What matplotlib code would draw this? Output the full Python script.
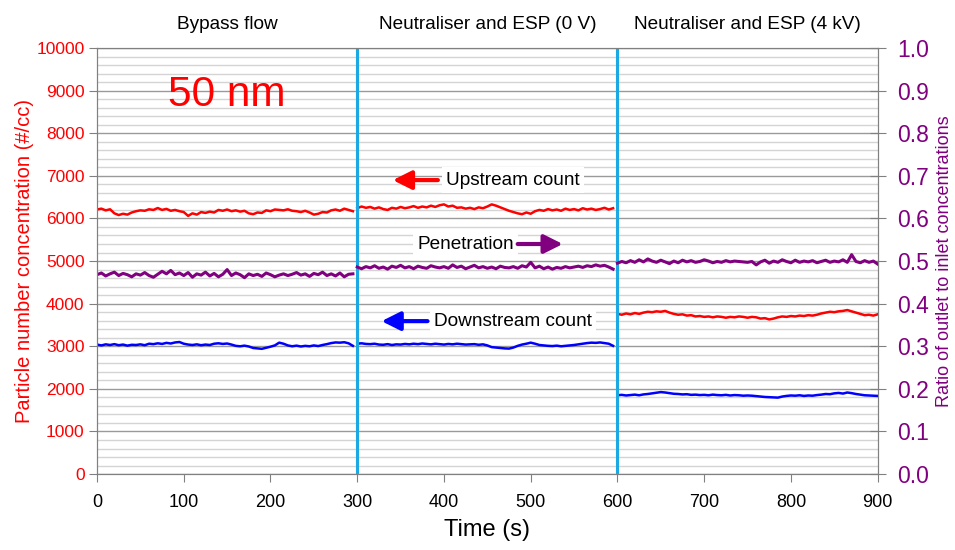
import numpy as np
import matplotlib.pyplot as plt
from matplotlib.transforms import blended_transform_factory

plt.rcParams['font.family'] = ['Liberation Sans', 'DejaVu Sans']

# time axis for the three test phases (5 s logging)
t_1 = np.arange(0, 300, 5)
t_2 = np.arange(300, 600, 5)
t_3 = np.arange(600, 905, 5)

phases = ["Bypass flow", "Neutraliser and ESP (0 V)", "Neutraliser and ESP (4 kV)"]

# upstream count (#/cc)
up_1 = [6210, 6230, 6190, 6215, 6120, 6080, 6110, 6090, 6140, 6170,
        6190, 6180, 6215, 6200, 6245, 6200, 6225, 6180, 6200, 6170,
        6150, 6060, 6120, 6090, 6150, 6130, 6160, 6140, 6200, 6180,
        6210, 6170, 6190, 6160, 6180, 6120, 6100, 6140, 6130, 6190,
        6170, 6210, 6200, 6190, 6215, 6180, 6170, 6150, 6180, 6140,
        6090, 6110, 6150, 6140, 6190, 6210, 6180, 6230, 6200, 6170]
up_2 = [6240, 6280, 6250, 6270, 6230, 6260, 6220, 6200, 6250, 6230,
        6270, 6240, 6260, 6290, 6250, 6280, 6260, 6300, 6270, 6310,
        6330, 6280, 6300, 6250, 6260, 6230, 6250, 6220, 6260, 6240,
        6280, 6330, 6300, 6260, 6220, 6180, 6150, 6120, 6100, 6140,
        6110, 6170, 6200, 6180, 6220, 6190, 6210, 6180, 6230, 6200,
        6220, 6190, 6240, 6210, 6230, 6200, 6220, 6250, 6210, 6240]
up_3 = [3760, 3740, 3770, 3750, 3780, 3760, 3790, 3810, 3800, 3820,
        3810, 3830, 3790, 3760, 3740, 3750, 3720, 3730, 3700, 3710,
        3690, 3700, 3680, 3700, 3690, 3670, 3690, 3680, 3700, 3690,
        3670, 3690, 3680, 3650, 3660, 3630, 3650, 3680, 3700, 3690,
        3710, 3700, 3720, 3710, 3730, 3720, 3740, 3770, 3790, 3810,
        3800, 3820, 3830, 3850, 3820, 3790, 3760, 3730, 3740, 3720,
        3750]

# downstream count (#/cc)
dn_1 = [3040, 3020, 3045, 3030, 3050, 3025, 3040, 3015, 3035, 3030,
        3045, 3025, 3060, 3050, 3070, 3055, 3080, 3065, 3090, 3100,
        3060, 3040, 3030, 3045, 3025, 3040, 3030, 3060, 3070, 3055,
        3065, 3040, 3010, 3000, 3015, 2995, 2960, 2950, 2940, 2965,
        2990, 3020, 3085, 3060, 3020, 3000, 3015, 2995, 3010, 3000,
        3020, 3005, 3030, 3050, 3075, 3090, 3085, 3095, 3070, 3010]
dn_2 = [3060, 3070, 3055, 3050, 3060, 3040, 3035, 3050, 3030, 3045,
        3040, 3055, 3045, 3060, 3050, 3065, 3055, 3045, 3060, 3050,
        3040, 3055, 3045, 3060, 3050, 3040, 3045, 3050, 3035, 3045,
        3020, 2980, 2970, 2960, 2950, 2945, 2970, 3010, 3040, 3060,
        3085, 3060, 3030, 3020, 3010, 3005, 3015, 3000, 3010, 3020,
        3030, 3045, 3060, 3075, 3085, 3080, 3090, 3075, 3060, 3010]
dn_3 = [1850, 1860, 1845, 1855, 1865, 1850, 1870, 1880, 1895, 1910,
        1925, 1915, 1900, 1885, 1880, 1870, 1875, 1860, 1865, 1855,
        1860, 1850, 1865, 1855, 1850, 1860, 1845, 1855, 1850, 1840,
        1845, 1840, 1830, 1820, 1810, 1805, 1800, 1795, 1820, 1835,
        1845, 1840, 1850, 1835, 1845, 1840, 1855, 1865, 1880, 1875,
        1895, 1905, 1890, 1915, 1900, 1880, 1865, 1850, 1845, 1840,
        1835]

# penetration (outlet / inlet)
pen_1 = [0.468, 0.472, 0.465, 0.470, 0.474, 0.466, 0.471, 0.468, 0.463, 0.470,
         0.467, 0.473, 0.466, 0.462, 0.469, 0.476, 0.470, 0.478, 0.468, 0.472,
         0.466, 0.473, 0.462, 0.470, 0.467, 0.474, 0.465, 0.471, 0.463, 0.469,
         0.480, 0.466, 0.472, 0.468, 0.461, 0.470, 0.466, 0.469, 0.464, 0.472,
         0.468, 0.463, 0.467, 0.470, 0.466, 0.469, 0.473, 0.467, 0.470, 0.464,
         0.471, 0.468, 0.474, 0.466, 0.470, 0.465, 0.472, 0.463, 0.469, 0.470]
pen_2 = [0.486, 0.482, 0.487, 0.484, 0.489, 0.483, 0.486, 0.481, 0.488, 0.485,
         0.490, 0.484, 0.487, 0.482, 0.488, 0.485, 0.483, 0.489, 0.486, 0.484,
         0.487, 0.483, 0.491, 0.485, 0.488, 0.482, 0.486, 0.490, 0.484, 0.487,
         0.483, 0.486, 0.482, 0.488, 0.485, 0.484, 0.487, 0.483, 0.489, 0.486,
         0.497, 0.484, 0.488, 0.482, 0.486, 0.481, 0.485, 0.483, 0.487, 0.484,
         0.486, 0.488, 0.485, 0.489, 0.487, 0.491, 0.488, 0.490, 0.486, 0.481]
pen_3 = [0.495, 0.499, 0.496, 0.501, 0.497, 0.503, 0.498, 0.505, 0.500, 0.497,
         0.502, 0.498, 0.494, 0.500, 0.496, 0.502, 0.498, 0.501, 0.497, 0.499,
         0.503, 0.500, 0.496, 0.499, 0.497, 0.501, 0.498, 0.500, 0.499, 0.498,
         0.497, 0.499, 0.491, 0.498, 0.502, 0.495, 0.500, 0.497, 0.503, 0.499,
         0.496, 0.502, 0.497, 0.500, 0.498, 0.501, 0.496, 0.499, 0.502, 0.497,
         0.500, 0.498, 0.503, 0.497, 0.515, 0.499, 0.496, 0.501, 0.497, 0.500,
         0.493]

RED = '#FF0000'
BLUE = '#0000FF'
PURPLE = '#800080'
CYAN = '#1CA9E1'

fig = plt.figure(figsize=(9.55, 5.5), dpi=100)
ax = fig.add_axes([0.1016, 0.138, 0.8174, 0.7747])
ax2 = ax.twinx()

# grid
ax.set_yticks(np.arange(0, 10001, 200), minor=True)
ax.grid(True, which='minor', axis='y', color='#D4D4D4', lw=1)
ax.grid(True, which='major', axis='y', color='#9A9A9A', lw=1)
ax.set_axisbelow(True)

for t, u, d in [(t_1, up_1, dn_1), (t_2, up_2, dn_2), (t_3, up_3, dn_3)]:
    ax.plot(t, u, color=RED, lw=1.8, zorder=3)
    ax.plot(t, d, color=BLUE, lw=1.8, zorder=3)
for t, p in [(t_1, pen_1), (t_2, pen_2), (t_3, pen_3)]:
    ax2.plot(t, p, color=PURPLE, lw=2.2)

ax.axvline(300, color=CYAN, lw=2.2, zorder=4)
ax.axvline(600, color=CYAN, lw=2.2, zorder=4)

ax.set_xlim(0, 900)
ax.set_ylim(0, 10000)
ax2.set_ylim(0, 1.0)
ax.set_xticks(np.arange(0, 901, 100))
ax.set_yticks(np.arange(0, 10001, 1000))
ax2.set_yticks(np.arange(0, 1.01, 0.1))
ax2.set_yticklabels([f"{v:.1f}" for v in np.arange(0, 1.01, 0.1)])

for a in (ax, ax2):
    for s in a.spines.values():
        s.set_color('#808080')
ax.tick_params(axis='x', colors='#808080', labelcolor='black', labelsize=13, length=6, pad=8)
ax.tick_params(axis='y', which='major', colors='#808080', labelcolor=RED, labelsize=12.5, length=6, pad=3)
ax.tick_params(axis='y', which='minor', length=0)
ax2.tick_params(axis='y', colors='#808080', labelcolor=PURPLE, labelsize=16.5, direction='inout', length=12, pad=8)

ax.set_xlabel("Time (s)", fontsize=17, labelpad=6)
ax.set_ylabel("Particle number concentration (#/cc)", color=RED, fontsize=14.5, labelpad=2)
ax2.set_ylabel("Ratio of outlet to inlet concentrations", color=PURPLE, fontsize=13, labelpad=5)

# phase headings above the plot
trans = blended_transform_factory(ax.transData, ax.transAxes)
for xc, name in zip([150, 450, 750], phases):
    ax.text(xc, 1.035, name, transform=trans, ha='center', va='bottom', fontsize=13.7)

ax.text(150, 8900, "50 nm", color=RED, fontsize=30.5, ha='center', va='center')

# series labels with arrows
box = dict(facecolor='white', edgecolor='none', pad=3)
arrow = dict(arrowstyle='-|>', lw=3, mutation_scale=28, shrinkA=0, shrinkB=0)
ax.text(402, 6900, "Upstream count", fontsize=13.7, ha='left', va='center', bbox=box, zorder=5)
ax.annotate("", xy=(341, 6900), xytext=(393, 6900), zorder=6,
            arrowprops=dict(arrow, color=RED))
ax.text(369, 5400, "Penetration", fontsize=13.7, ha='left', va='center', bbox=box, zorder=5)
ax.annotate("", xy=(537, 5400), xytext=(485, 5400), zorder=6,
            arrowprops=dict(arrow, color=PURPLE))
ax.text(389, 3590, "Downstream count", fontsize=13.7, ha='left', va='center', bbox=box, zorder=5)
ax.annotate("", xy=(328, 3590), xytext=(381, 3590), zorder=6,
            arrowprops=dict(arrow, color=BLUE))

fig.savefig("out.png", dpi=100)
